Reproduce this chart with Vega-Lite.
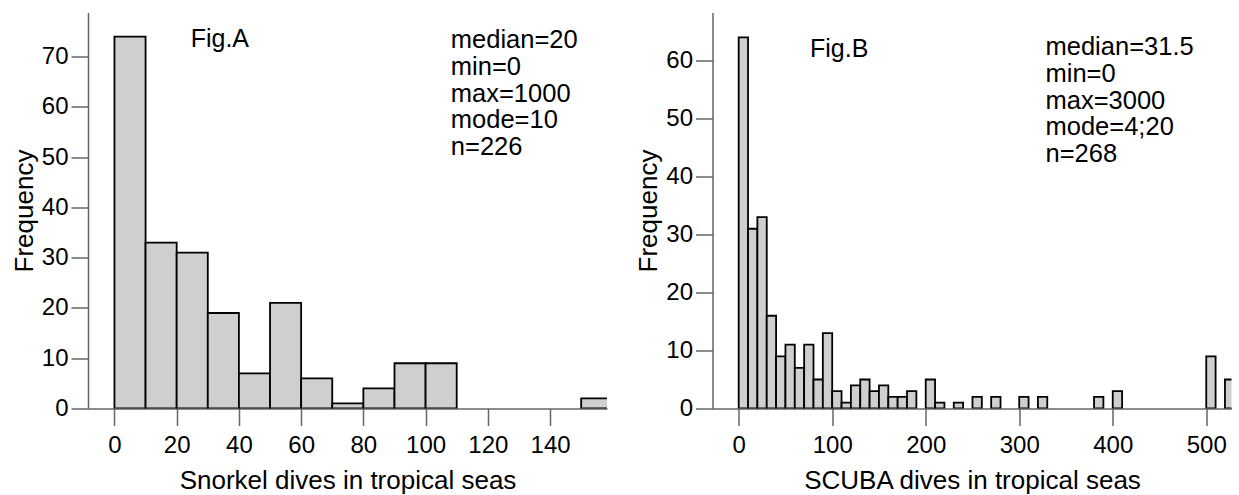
{
  "$schema": "https://vega.github.io/schema/vega-lite/v6.json",
  "padding": {"left": 11, "top": 12.5, "right": 0, "bottom": 0},
  "background": "white",
  "datasets": {
    "snorkel": [
      {"bin_start": 0, "bin_end": 10, "count": 74},
      {"bin_start": 10, "bin_end": 20, "count": 33},
      {"bin_start": 20, "bin_end": 30, "count": 31},
      {"bin_start": 30, "bin_end": 40, "count": 19},
      {"bin_start": 40, "bin_end": 50, "count": 7},
      {"bin_start": 50, "bin_end": 60, "count": 21},
      {"bin_start": 60, "bin_end": 70, "count": 6},
      {"bin_start": 70, "bin_end": 80, "count": 1},
      {"bin_start": 80, "bin_end": 90, "count": 4},
      {"bin_start": 90, "bin_end": 100, "count": 9},
      {"bin_start": 100, "bin_end": 110, "count": 9},
      {"bin_start": 150, "bin_end": 160, "count": 2}
    ],
    "scuba": [
      {"bin_start": 0, "bin_end": 10, "count": 64},
      {"bin_start": 10, "bin_end": 20, "count": 31},
      {"bin_start": 20, "bin_end": 30, "count": 33},
      {"bin_start": 30, "bin_end": 40, "count": 16},
      {"bin_start": 40, "bin_end": 50, "count": 9},
      {"bin_start": 50, "bin_end": 60, "count": 11},
      {"bin_start": 60, "bin_end": 70, "count": 7},
      {"bin_start": 70, "bin_end": 80, "count": 11},
      {"bin_start": 80, "bin_end": 90, "count": 5},
      {"bin_start": 90, "bin_end": 100, "count": 13},
      {"bin_start": 100, "bin_end": 110, "count": 3},
      {"bin_start": 110, "bin_end": 120, "count": 1},
      {"bin_start": 120, "bin_end": 130, "count": 4},
      {"bin_start": 130, "bin_end": 140, "count": 5},
      {"bin_start": 140, "bin_end": 150, "count": 3},
      {"bin_start": 150, "bin_end": 160, "count": 4},
      {"bin_start": 160, "bin_end": 170, "count": 2},
      {"bin_start": 170, "bin_end": 180, "count": 2},
      {"bin_start": 180, "bin_end": 190, "count": 3},
      {"bin_start": 200, "bin_end": 210, "count": 5},
      {"bin_start": 210, "bin_end": 220, "count": 1},
      {"bin_start": 230, "bin_end": 240, "count": 1},
      {"bin_start": 250, "bin_end": 260, "count": 2},
      {"bin_start": 270, "bin_end": 280, "count": 2},
      {"bin_start": 300, "bin_end": 310, "count": 2},
      {"bin_start": 320, "bin_end": 330, "count": 2},
      {"bin_start": 380, "bin_end": 390, "count": 2},
      {"bin_start": 400, "bin_end": 410, "count": 3},
      {"bin_start": 500, "bin_end": 510, "count": 9},
      {"bin_start": 520, "bin_end": 530, "count": 5}
    ]
  },
  "spacing": 105.5,
  "bounds": "flush",
  "hconcat": [
    {
      "width": 519,
      "height": 396,
      "layer": [
        {
          "data": {"name": "snorkel"},
          "mark": {"type": "bar", "fill": "#cfcfcf", "stroke": "black", "strokeWidth": 1.8, "clip": true},
          "encoding": {
            "x": {"field": "bin_start", "type": "quantitative", "scale": {"domain": [-8.5, 158.3], "nice": false, "zero": false},
                  "axis": {"title": "Snorkel dives in tropical seas", "values": [0, 20, 40, 60, 80, 100, 120, 140]}},
            "x2": {"field": "bin_end"},
            "y": {"field": "count", "type": "quantitative", "scale": {"domain": [0, 78.8], "nice": false},
                  "axis": {"title": "Frequency", "values": [0, 10, 20, 30, 40, 50, 60, 70]}},
            "y2": {"datum": 0}
          }
        },
        {
          "data": {"values": [{}]},
          "mark": {"type": "text", "align": "left", "baseline": "alphabetic", "fontSize": 25, "font": "Liberation Sans", "color": "black"},
          "encoding": {
            "x": {"datum": 24.5, "type": "quantitative"},
            "y": {"datum": 72, "type": "quantitative"},
            "text": {"value": "Fig.A"}
          }
        },
        {
          "data": {"values": [{}]},
          "mark": {"type": "text", "align": "left", "baseline": "alphabetic", "fontSize": 25.5, "lineHeight": 26.7, "font": "Liberation Sans", "color": "black"},
          "encoding": {
            "x": {"datum": 108.1, "type": "quantitative"},
            "y": {"datum": 71.7, "type": "quantitative"},
            "text": {"value": ["median=20", "min=0", "max=1000", "mode=10", "n=226"]}
          }
        }
      ]
    },
    {
      "width": 519,
      "height": 396,
      "layer": [
        {
          "data": {"name": "scuba"},
          "mark": {"type": "bar", "fill": "#cfcfcf", "stroke": "black", "strokeWidth": 1.8, "clip": true},
          "encoding": {
            "x": {"field": "bin_start", "type": "quantitative", "scale": {"domain": [-28, 527], "nice": false, "zero": false},
                  "axis": {"title": "SCUBA dives in tropical seas", "values": [0, 100, 200, 300, 400, 500]}},
            "x2": {"field": "bin_end"},
            "y": {"field": "count", "type": "quantitative", "scale": {"domain": [0, 68.3], "nice": false},
                  "axis": {"title": "Frequency", "values": [0, 10, 20, 30, 40, 50, 60]}},
            "y2": {"datum": 0}
          }
        },
        {
          "data": {"values": [{}]},
          "mark": {"type": "text", "align": "left", "baseline": "alphabetic", "fontSize": 25, "font": "Liberation Sans", "color": "black"},
          "encoding": {
            "x": {"datum": 76.3, "type": "quantitative"},
            "y": {"datum": 60.6, "type": "quantitative"},
            "text": {"value": "Fig.B"}
          }
        },
        {
          "data": {"values": [{}]},
          "mark": {"type": "text", "align": "left", "baseline": "alphabetic", "fontSize": 25.5, "lineHeight": 26.7, "font": "Liberation Sans", "color": "black"},
          "encoding": {
            "x": {"datum": 328.1, "type": "quantitative"},
            "y": {"datum": 60.9, "type": "quantitative"},
            "text": {"value": ["median=31.5", "min=0", "max=3000", "mode=4;20", "n=268"]}
          }
        }
      ]
    }
  ],
  "config": {
    "font": "Liberation Sans",
    "view": {"stroke": null},
    "axis": {
      "grid": false,
      "domainColor": "#666666",
      "domainWidth": 1.5,
      "tickColor": "#666666",
      "tickWidth": 1.5,
      "tickSize": 17,
      "labelFont": "Liberation Sans",
      "labelFontSize": 24,
      "labelColor": "black",
      "titleFont": "Liberation Sans",
      "titleFontSize": 26,
      "titleFontWeight": "normal",
      "titleColor": "black",
      "labelOverlap": false,
      "labelFlush": false
    },
    "axisX": {"labelPadding": 8, "titleY": 79.5, "titleBaseline": "alphabetic"},
    "axisY": {"labelPadding": 3, "titleX": -56, "titleBaseline": "alphabetic", "titleAngle": -90}
  }
}
